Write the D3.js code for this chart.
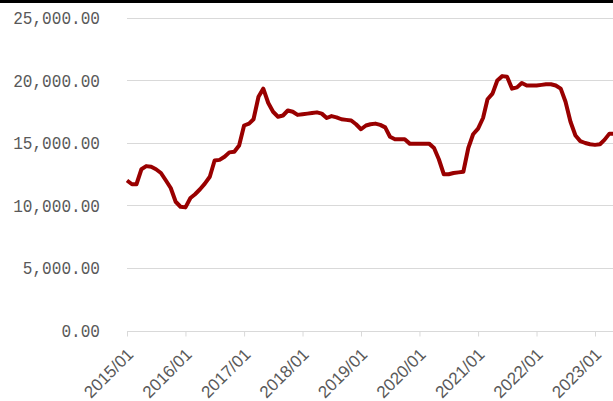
<!DOCTYPE html>
<html>
<head>
<meta charset="utf-8">
<script src="https://cdn.jsdelivr.net/npm/d3@7"></script>
<style>
html,body{margin:0;padding:0;background:#fff;}
svg{display:block;}
</style>
</head>
<body>
<svg id="chart" width="613" height="401"></svg>
<script>
// ---- data ----
const startMonth = "2015/01";
const values = [
  12000, 11700, 11700, 12900, 13150, 13100, 12900, 12600, 12000, 11400,
  10300, 9900, 9850, 10600, 10900, 11300, 11750, 12300, 13600, 13650,
  13900, 14250, 14300, 14800, 16400, 16550, 16900, 18700, 19350, 18200,
  17500, 17100, 17200, 17600, 17500, 17250, 17300, 17350, 17400, 17450,
  17350, 17000, 17150, 17050, 16900, 16850, 16800, 16500, 16100, 16400,
  16500, 16550, 16450, 16250, 15500, 15300, 15300, 15300, 14950, 14950,
  14950, 14950, 14950, 14600, 13700, 12500, 12500, 12600, 12650, 12700,
  14600, 15700, 16150, 17000, 18500, 18950, 20000, 20350, 20300, 19350,
  19450, 19800, 19600, 19600, 19600, 19650, 19700, 19700, 19600, 19350,
  18300, 16700, 15600, 15150, 15000, 14900, 14850, 14900, 15250, 15750,
  15750
];
const xTickLabels = ["2015/01","2016/01","2017/01","2018/01","2019/01","2020/01","2021/01","2022/01","2023/01"];
const yTicks = [0, 5000, 10000, 15000, 20000, 25000];

// ---- setup ----
const svg = d3.select("#chart");
const parse = d3.timeParse("%Y/%m");
const t0 = parse(startMonth);
const series = values.map((v, i) => ({ date: d3.timeMonth.offset(t0, i), value: v }));

const x = d3.scaleTime()
  .domain([parse(xTickLabels[0]), parse(xTickLabels[xTickLabels.length - 1])])
  .range([127, 595]);
const y = d3.scaleLinear().domain([0, 25000]).range([330.5, 18]);

// top black bar
svg.append("rect").attr("x", 0).attr("y", 0).attr("width", 613).attr("height", 3).attr("fill", "#000");

// gridlines
svg.append("g").selectAll("line").data(yTicks.filter(d => d > 0)).join("line")
  .attr("x1", 127).attr("x2", 613)
  .attr("y1", d => Math.round(y(d)) + 0.5).attr("y2", d => Math.round(y(d)) + 0.5)
  .attr("stroke", "#d9d9d9").attr("stroke-width", 1);

// y labels
const fmt = d3.format(",.2f");
svg.append("g").selectAll("text").data(yTicks).join("text")
  .attr("x", 100).attr("y", d => y(d))
  .attr("dy", "0.36em")
  .attr("text-anchor", "end")
  .attr("font-family", "'Liberation Mono', 'DejaVu Sans Mono', monospace")
  .attr("font-size", 18)
  .attr("textLength", d => fmt(d).length * 9.65)
  .attr("lengthAdjust", "spacingAndGlyphs")
  .attr("fill", "#595959")
  .text(d => fmt(d));

// x axis
const xAxis = d3.axisBottom(x)
  .tickValues(xTickLabels.map(parse))
  .tickSize(5)
  .tickFormat(d3.timeFormat("%Y/%m"));
const gx = svg.append("g").attr("transform", `translate(0,${Math.round(y(0)) + 0.5})`).call(xAxis);
gx.select(".domain").attr("d", "M127,0H613").attr("stroke", "#d9d9d9");
gx.selectAll(".tick line").attr("stroke", "#d9d9d9");
gx.selectAll(".tick text")
  .attr("font-family", "'Liberation Sans', Arial, sans-serif")
  .attr("font-size", 17)
  .attr("fill", "#595959")
  .attr("text-anchor", "end")
  .attr("dy", null)
  .attr("y", 0)
  .attr("transform", "translate(7,24) rotate(-45)");

// line
const line = d3.line().x(d => x(d.date)).y(d => y(d.value)).curve(d3.curveLinear);
svg.append("path").datum(series)
  .attr("d", line)
  .attr("fill", "none")
  .attr("stroke", "#990000")
  .attr("stroke-width", 4)
  .attr("stroke-linejoin", "round");
</script>
</body>
</html>
